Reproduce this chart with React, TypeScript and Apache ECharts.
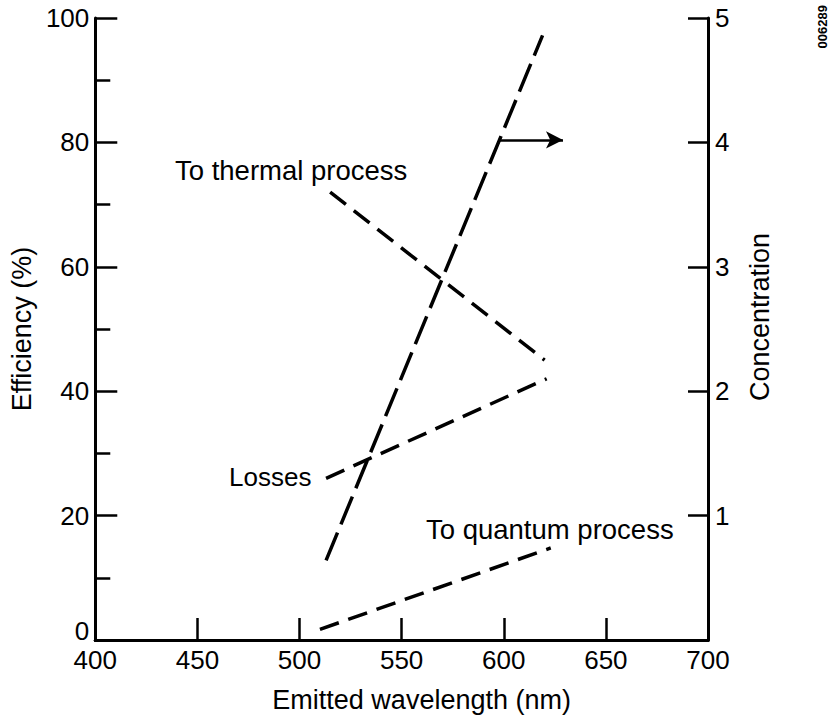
import React, { useEffect, useRef } from "react";
import * as echarts from "echarts";

// Data
const thermalX = [515, 620];
const thermalY = [72, 45];
const lossesX = [513, 621];
const lossesY = [26, 42];
const quantumX = [510, 623];
const quantumY = [1.7, 14.8];
const concX = [513, 619];
const concY = [0.64, 4.86];
const arrowX = [598, 629];
const arrowY = 4.02;

const xTicks = [400, 450, 500, 550, 600, 650, 700];
const effTicks = [0, 20, 40, 60, 80, 100];
const concTicks = [0, 1, 2, 3, 4, 5];

const FONT = "'Liberation Sans', Arial, Helvetica, sans-serif";

const pairs = (xs: number[], ys: number[]) => xs.map((x, i) => [x, ys[i]]);

export default function App() {
  const ref = useRef<HTMLDivElement>(null);
  useEffect(() => {
    if (!ref.current) return;
    const chart = echarts.init(ref.current, null, { renderer: "svg" });
    const axisLine = { show: true, lineStyle: { color: "#000", width: 3 } };
    const label = { color: "#000", fontSize: 26, fontFamily: FONT, lineHeight: 18 };
    const dashed = (dash: number[]) => ({
      color: "#000",
      width: 3.5,
      type: dash,
      cap: "butt",
    });
    chart.setOption({
      animation: false,
      backgroundColor: "#fff",
      textStyle: { fontFamily: FONT, color: "#000" },
      grid: { left: 83, right: 121, top: 18, bottom: 79, containLabel: false },
      xAxis: [
        {
          type: "value",
          position: "bottom",
          min: xTicks[0],
          max: xTicks[xTicks.length - 1],
          interval: 50,
          axisLine,
          axisTick: { show: true, inside: true, length: 22, lineStyle: { color: "#000", width: 2.5 } },
          axisLabel: { ...label, margin: 11 },
          splitLine: { show: false },
          name: "Emitted wavelength (nm)",
          nameLocation: "middle",
          nameGap: 46,
          nameTextStyle: { color: "#000", fontFamily: FONT, fontSize: 27, padding: [0, 0, 0, 40] },
        },
        {
          type: "value",
          position: "top",
          min: xTicks[0],
          max: xTicks[xTicks.length - 1],
          interval: 50,
          axisLine,
          axisTick: { show: false },
          axisLabel: { show: false },
          splitLine: { show: false },
        },
      ],
      yAxis: [
        {
          type: "value",
          position: "left",
          min: effTicks[0],
          max: effTicks[effTicks.length - 1],
          interval: 20,
          axisLine,
          axisTick: { show: true, inside: true, length: 22, lineStyle: { color: "#000", width: 2.5 } },
          minorTick: { show: true, splitNumber: 2, length: 15, lineStyle: { color: "#000", width: 2.5 } },
          axisLabel: { ...label, margin: 6, verticalAlignMinLabel: "bottom" },
          splitLine: { show: false },
          minorSplitLine: { show: false },
          name: "Efficiency (%)",
          nameLocation: "middle",
          nameGap: 38,
          nameTextStyle: { color: "#000", fontFamily: FONT, fontSize: 27 },
        },
        {
          type: "value",
          position: "right",
          min: concTicks[0],
          max: concTicks[concTicks.length - 1],
          interval: 1,
          axisLine,
          axisTick: { show: true, inside: true, length: 20, lineStyle: { color: "#000", width: 2.5 } },
          axisLabel: {
            ...label,
            margin: 7,
            formatter: (v: number) => (v === 0 ? "" : String(v)),
          },
          splitLine: { show: false },
          name: "Concentration",
          nameLocation: "middle",
          nameGap: 38,
          nameRotate: 90,
          nameTextStyle: { color: "#000", fontFamily: FONT, fontSize: 27, padding: [0, 0, 0, 24] },
        },
      ],
      series: [
        {
          name: "To thermal process",
          type: "line",
          data: pairs(thermalX, thermalY),
          symbol: "none",
          lineStyle: dashed([20, 10]),
        },
        {
          name: "Losses",
          type: "line",
          data: pairs(lossesX, lossesY),
          symbol: "none",
          lineStyle: dashed([20, 10]),
        },
        {
          name: "To quantum process",
          type: "line",
          data: pairs(quantumX, quantumY),
          symbol: "none",
          lineStyle: dashed([20, 10]),
        },
        {
          name: "Concentration",
          type: "line",
          yAxisIndex: 1,
          data: pairs(concX, concY),
          symbol: "none",
          lineStyle: dashed([30, 9]),
          markLine: {
            silent: true,
            symbol: ["none", "arrow"],
            symbolSize: [13, 17],
            label: { show: false },
            lineStyle: { color: "#000", width: 2.5, type: "solid" },
            data: [[{ coord: [arrowX[0], arrowY] }, { coord: [arrowX[1], arrowY] }]],
          },
        },
      ],
      graphic: [
        {
          type: "text",
          left: 175,
          top: 156,
          style: { text: "To thermal process", fontSize: 27.5, fontFamily: FONT, fill: "#000" },
        },
        {
          type: "text",
          left: 229,
          top: 464,
          style: { text: "Losses", fontSize: 26, fontFamily: FONT, fill: "#000" },
        },
        {
          type: "text",
          left: 426,
          top: 515,
          style: { text: "To quantum process", fontSize: 27.5, fontFamily: FONT, fill: "#000" },
        },
        {
          type: "text",
          x: 829,
          y: 5,
          rotation: Math.PI / 2,
          style: {
            text: "006289",
            fontSize: 13,
            fontWeight: "bold",
            fontFamily: FONT,
            fill: "#000",
            align: "right",
            verticalAlign: "bottom",
          },
        },
      ],
    });
    return () => chart.dispose();
  }, []);
  return (
    <div
      ref={ref}
      style={{ position: "fixed", left: 0, top: 0, width: 829, height: 719, background: "#fff" }}
    />
  );
}
